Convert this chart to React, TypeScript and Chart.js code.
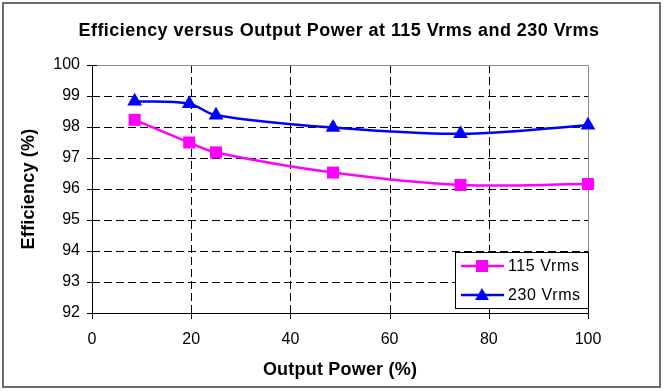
import React, { useEffect, useRef } from "react";
import { Chart, registerables } from "chart.js";

Chart.register(...registerables);

const chartTitle = "Efficiency versus Output Power at 115 Vrms and 230 Vrms";
const xTitle = "Output Power (%)";
const yTitle = "Efficiency (%)";
const seriesNames = ["115 Vrms", "230 Vrms"];
const outputPower = [8.6, 19.6, 25, 48.6, 74.3, 100];
const eff115 = [98.23, 97.5, 97.18, 96.53, 96.13, 96.16];
const eff230 = [98.83, 98.75, 98.38, 97.98, 97.78, 98.06];
const xTicks = [0, 20, 40, 60, 80, 100];
const yTicks = [92, 93, 94, 95, 96, 97, 98, 99, 100];

const FONT = '"Liberation Sans", Arial, sans-serif';
const C115 = "#ff00ff";
const C230 = "#0000ff";

function drawMarker(ctx: CanvasRenderingContext2D, style: string, x: number, y: number, color: string) {
  ctx.fillStyle = color;
  ctx.beginPath();
  if (style === "rect") {
    ctx.rect(x - 6, y - 6, 12, 12);
  } else {
    const r = 8;
    ctx.moveTo(x, y - r);
    ctx.lineTo(x + r * 0.866, y + r / 2);
    ctx.lineTo(x - r * 0.866, y + r / 2);
    ctx.closePath();
  }
  ctx.fill();
}

const framePlugin = {
  id: "framePlugin",
  beforeDatasetsDraw(chart: any) {
    const ctx = chart.ctx as CanvasRenderingContext2D;
    const { left, right, top, bottom } = chart.chartArea;
    const xs = chart.scales.x;
    const ys = chart.scales.y;
    ctx.save();
    ctx.strokeStyle = "#000";
    ctx.lineWidth = 1;
    ctx.setLineDash([8, 4]);
    for (const v of yTicks) {
      if (v === yTicks[0] || v === yTicks[yTicks.length - 1]) continue;
      const py = Math.round(ys.getPixelForValue(v)) + 0.5;
      ctx.beginPath();
      ctx.moveTo(left, py);
      ctx.lineTo(right, py);
      ctx.stroke();
    }
    for (const v of xTicks) {
      if (v === xTicks[0] || v === xTicks[xTicks.length - 1]) continue;
      const px = Math.round(xs.getPixelForValue(v)) + 0.5;
      ctx.beginPath();
      ctx.moveTo(px, top);
      ctx.lineTo(px, bottom);
      ctx.stroke();
    }
    ctx.setLineDash([]);
    ctx.strokeStyle = "#8c8c8c";
    ctx.beginPath();
    ctx.moveTo(Math.round(left) + 0.5, Math.round(top) + 0.5);
    ctx.lineTo(Math.round(right) + 0.5, Math.round(top) + 0.5);
    ctx.lineTo(Math.round(right) + 0.5, Math.round(bottom) + 0.5);
    ctx.stroke();
    ctx.strokeStyle = "#000";
    ctx.beginPath();
    ctx.moveTo(Math.round(left) + 0.5, Math.round(top) + 0.5);
    ctx.lineTo(Math.round(left) + 0.5, Math.round(bottom) + 5);
    ctx.moveTo(Math.round(left) - 5, Math.round(bottom) + 0.5);
    ctx.lineTo(Math.round(right) + 0.5, Math.round(bottom) + 0.5);
    for (const v of yTicks) {
      const py = Math.round(ys.getPixelForValue(v)) + 0.5;
      ctx.moveTo(Math.round(left) - 5, py);
      ctx.lineTo(Math.round(left) + 5, py);
    }
    for (const v of xTicks) {
      const px = Math.round(xs.getPixelForValue(v)) + 0.5;
      ctx.moveTo(px, Math.round(bottom) - 5);
      ctx.lineTo(px, Math.round(bottom) + 6);
    }
    ctx.stroke();
    ctx.restore();
  },
  afterDatasetsDraw(chart: any) {
    const ctx = chart.ctx as CanvasRenderingContext2D;
    const { left, right, top, bottom } = chart.chartArea;
    ctx.save();
    const bw = 133, bh = 56;
    const bx = Math.round(right) - bw, by = Math.round(bottom) - 5 - bh;
    ctx.fillStyle = "#fff";
    ctx.fillRect(bx, by, bw, bh);
    ctx.strokeStyle = "#000";
    ctx.lineWidth = 1;
    ctx.strokeRect(bx + 0.5, by + 0.5, bw, bh);
    const rows = [
      { name: seriesNames[0], color: C115, style: "rect", y: by + 14 },
      { name: seriesNames[1], color: C230, style: "triangle", y: by + 43 },
    ];
    ctx.font = `16px ${FONT}`;
    ctx.textBaseline = "middle";
    ctx.textAlign = "left";
    for (const r of rows) {
      ctx.strokeStyle = r.color;
      ctx.lineWidth = 2.5;
      ctx.beginPath();
      ctx.moveTo(bx + 6, r.y);
      ctx.lineTo(bx + 49, r.y);
      ctx.stroke();
      drawMarker(ctx, r.style, bx + 27, r.style === "rect" ? r.y : r.y + 1, r.color);
      ctx.fillStyle = "#000";
      (ctx as any).letterSpacing = "0.6px";
      ctx.fillText(r.name, bx + 53, r.y + 1);
    }
    ctx.fillStyle = "#000";
    ctx.textAlign = "center";
    ctx.font = `bold 18px ${FONT}`;
    (ctx as any).letterSpacing = "0.45px";
    ctx.fillText(chartTitle, 339, 31);
    (ctx as any).letterSpacing = "0.2px";
    ctx.fillText(xTitle, (left + right) / 2, 370);
    ctx.save();
    ctx.translate(29, (top + bottom) / 2);
    ctx.rotate(-Math.PI / 2);
    ctx.fillText(yTitle, 0, 0);
    ctx.restore();
    ctx.restore();
  },
};

export default function App() {
  const ref = useRef<HTMLCanvasElement>(null);
  useEffect(() => {
    document.body.style.margin = "0";
    const canvas = ref.current!;
    const chart = new Chart(canvas, {
      type: "line",
      data: {
        datasets: [
          {
            label: seriesNames[0],
            data: outputPower.map((x, i) => ({ x, y: eff115[i] })),
            borderColor: C115,
            backgroundColor: C115,
            borderWidth: 2.5,
            pointStyle: "rect",
            pointRadius: 8.5,
            pointBorderWidth: 0,
            tension: 0.35,
            clip: false as any,
          },
          {
            label: seriesNames[1],
            data: outputPower.map((x, i) => ({ x, y: eff230[i] })),
            borderColor: C230,
            backgroundColor: C230,
            borderWidth: 2.5,
            pointStyle: "triangle",
            pointRadius: 8.5,
            pointBorderWidth: 0,
            tension: 0.35,
            clip: false as any,
          },
        ],
      },
      options: {
        responsive: false,
        animation: false,
        devicePixelRatio: 1,
        layout: { padding: { top: 65, right: 77, left: 0, bottom: 0 } },
        plugins: { legend: { display: false }, title: { display: false }, tooltip: { enabled: false } },
        scales: {
          x: {
            type: "linear",
            min: 0,
            max: 100,
            afterFit: (s: any) => { s.height = 78; },
            afterBuildTicks: (s: any) => { s.ticks = xTicks.map((v) => ({ value: v })); },
            grid: { display: false, drawTicks: false },
            border: { display: false },
            ticks: { color: "#000", font: { family: FONT, size: 16 }, padding: 17, maxRotation: 0 },
          },
          y: {
            type: "linear",
            min: 92,
            max: 100,
            afterFit: (s: any) => { s.width = 92; },
            afterBuildTicks: (s: any) => { s.ticks = yTicks.map((v) => ({ value: v })); },
            grid: { display: false, drawTicks: false },
            border: { display: false },
            ticks: { color: "#000", font: { family: FONT, size: 16 }, padding: 12 },
          },
        },
      },
      plugins: [framePlugin],
    });
    return () => chart.destroy();
  }, []);
  return (
    <div style={{ position: "relative", width: 665, height: 391, background: "#fff" }}>
      <canvas ref={ref} width={665} height={391} style={{ position: "absolute", left: 0, top: 0 }} />
      <div
        style={{
          position: "absolute",
          left: 2,
          top: 2,
          width: 655,
          height: 382,
          border: "2px solid #6e6e6e",
          pointerEvents: "none",
        }}
      />
    </div>
  );
}
